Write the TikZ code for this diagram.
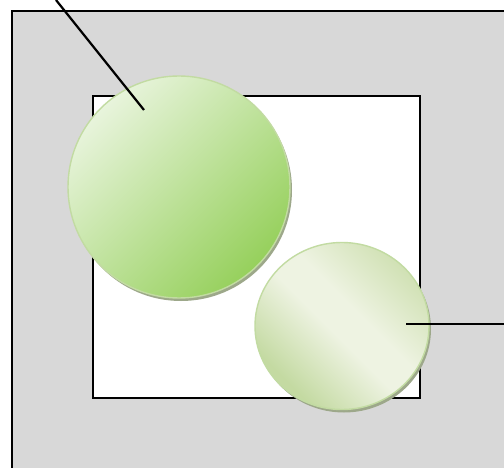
\documentclass[tikz,border=0pt]{standalone}
\usetikzlibrary{shadows,shapes.geometric}
\definecolor{bggray}{HTML}{D8D8D8}
\definecolor{gA}{HTML}{E8F4DC}
\definecolor{gB}{HTML}{96D05C}
\definecolor{gEdge}{HTML}{C2DBA2}
\definecolor{sA}{HTML}{C4DAA2}
\definecolor{sB}{HTML}{EEF3E2}
\definecolor{sC}{HTML}{CFE0B2}
\definecolor{shad}{HTML}{9DA88A}
\pgfdeclareverticalshading{bandshade}{100bp}{color(0bp)=(sA); color(27bp)=(sA); color(47bp)=(sB); color(56bp)=(sB); color(76bp)=(sC); color(100bp)=(sC)}
\tikzset{
  x=1pt, y=-1pt,
  frame/.style={draw=black, line width=1.8pt},
  ball/.style={draw=gEdge, line width=1.4pt, inner sep=0pt,
    drop shadow={shadow xshift=2pt, shadow yshift=-3pt, fill=shad, opacity=1}},
  wire/.style={draw=black, line width=2.2pt}
}
\begin{document}
\begin{tikzpicture}
\useasboundingbox (0,0) rectangle (504,468);
\path[frame, fill=bggray] (12,11) rectangle (520,480);
\path[frame, fill=white] (93,96) rectangle (420,398);
\node[ball, circle, minimum size=222pt, top color=gA, bottom color=gB, shading angle=45] (big) at (179,187) {};
\node[ball, ellipse, minimum width=174pt, minimum height=167pt, shading=bandshade, shading angle=-45] (small) at (342,326) {};
\coordinate (t1) at (56,0);
\coordinate (e1) at (144,110);
\coordinate (t2) at (504,324);
\coordinate (e2) at (406,324);
\draw[wire] (t1) -- (e1);
\draw[wire] (e2) -- (t2);
\end{tikzpicture}
\end{document}
